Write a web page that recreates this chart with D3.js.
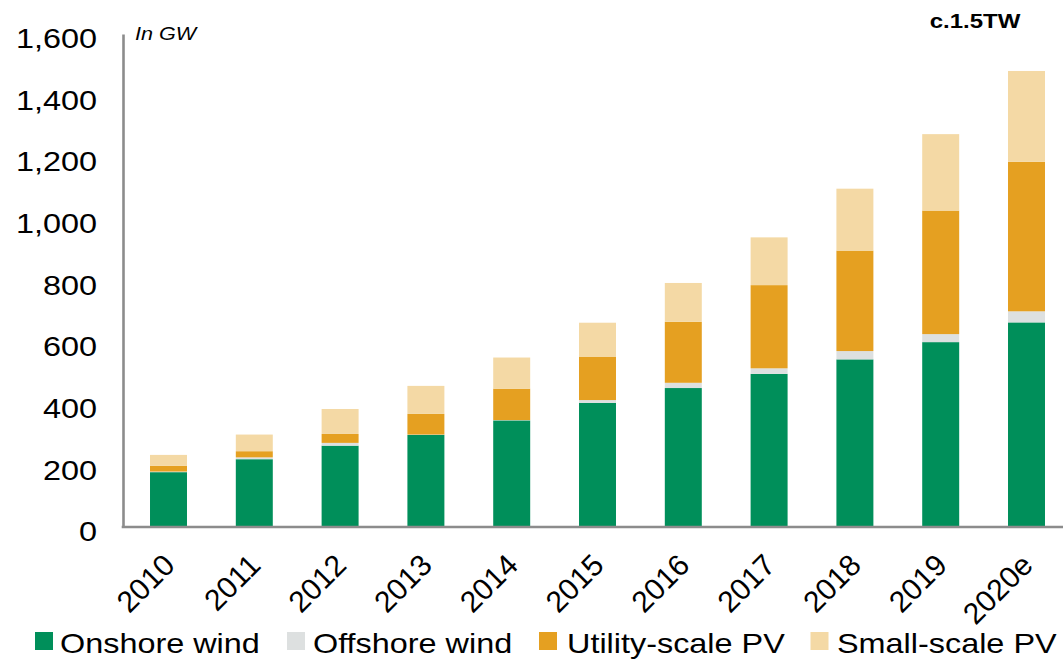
<!DOCTYPE html>
<html>
<head>
<meta charset="utf-8">
<script src="https://cdn.jsdelivr.net/npm/d3@7"></script>
<style>
  html, body { margin: 0; padding: 0; background: #fff; }
  svg { display: block; font-family: "Liberation Sans", Arial, sans-serif; }
</style>
</head>
<body>
<svg id="chart" width="1063" height="660"></svg>
<script>
// Installed wind and solar capacity, GW
const years = ["2010", "2011", "2012", "2013", "2014", "2015", "2016", "2017", "2018", "2019", "2020e"];
const onshoreWind  = [178, 220, 264, 299, 346, 403, 451, 497, 544, 600, 664];
const offshoreWind = [2, 6, 9, 1, 1, 9, 17, 18, 27, 26, 36];
const utilityPV    = [19, 20, 29, 67, 102, 141, 198, 270, 326, 401, 485];
const smallPV      = [35, 54, 81, 91, 101, 110, 126, 155, 201, 248, 295];
const yTicks = [0, 200, 400, 600, 800, 1000, 1200, 1400, 1600];

const seriesNames = ["Onshore wind", "Offshore wind", "Utility-scale PV", "Small-scale PV"];
const seriesKeys = ["onshore", "offshore", "utility", "small"];
const colors = ["#008F5A", "#DDE0E0", "#E5A021", "#F4D9A5"];

const rows = years.map((y, i) => ({
  year: y,
  onshore: onshoreWind[i],
  offshore: offshoreWind[i],
  utility: utilityPV[i],
  small: smallPV[i]
}));

const W = 1063, H = 660;
const axisX = 123;
const sx = 1.2; // horizontal stretch applied to horizontal text

const svg = d3.select("#chart");

const x = d3.scaleBand()
  .domain(years)
  .range([125.6, 1069.4])
  .paddingInner(0.569)
  .paddingOuter(0.2845);

const y = d3.scaleLinear()
  .domain([0, 1600])
  .range([527, 34]);

const color = d3.scaleOrdinal().domain(seriesKeys).range(colors);

const stack = d3.stack().keys(seriesKeys);
const layers = stack(rows);

// Stacked bars
svg.append("g")
  .selectAll("g")
  .data(layers)
  .join("g")
  .attr("fill", d => color(d.key))
  .selectAll("rect")
  .data(d => d)
  .join("rect")
  .attr("x", d => x(d.data.year))
  .attr("width", x.bandwidth())
  .attr("y", d => y(d[1]))
  .attr("height", d => Math.max(0, y(d[0]) - y(d[1])));

// Y axis
const yAxis = svg.append("g")
  .attr("transform", `translate(${axisX},0)`)
  .call(d3.axisLeft(y).tickValues(yTicks).tickFormat(d3.format(",")).tickSize(0).tickSizeOuter(0));
yAxis.select(".domain").attr("stroke", "#8C8C8C").attr("stroke-width", 2.6);
yAxis.selectAll(".tick text")
  .attr("x", 0)
  .attr("dy", "0.36em")
  .attr("transform", `translate(${97 - axisX},4) scale(${sx},1)`)
  .attr("font-size", 27)
  .attr("fill", "#000")
  .attr("font-family", "Liberation Sans, Arial, sans-serif")
  .attr("text-anchor", "end");

// X axis with rotated labels
const xAxis = svg.append("g")
  .attr("transform", `translate(0,${y(0)})`)
  .call(d3.axisBottom(x).tickSize(0));
xAxis.select(".domain").remove();
xAxis.selectAll(".tick text")
  .attr("x", 0)
  .attr("y", 0)
  .attr("dy", 0)
  .attr("text-anchor", "end")
  .attr("transform", "translate(8,40) rotate(-45)")
  .attr("font-size", 30)
  .attr("fill", "#000")
  .attr("font-family", "Liberation Sans, Arial, sans-serif");

// Category baseline
svg.append("line")
  .attr("x1", axisX - 1.3).attr("x2", W)
  .attr("y1", y(0)).attr("y2", y(0))
  .attr("stroke", "#8C8C8C").attr("stroke-width", 2.6);

// Unit note
svg.append("text")
  .attr("transform", `translate(135,40) scale(${sx},1)`)
  .attr("font-size", 18)
  .attr("font-style", "italic")
  .attr("fill", "#000")
  .text("In GW");

// Total annotation
svg.append("text")
  .attr("transform", `translate(975,28) scale(${sx},1)`)
  .attr("text-anchor", "middle")
  .attr("font-size", 20)
  .attr("font-weight", "bold")
  .attr("fill", "#000")
  .text("c.1.5TW");

// Legend
const legendSquareX = [35, 287, 539, 810.5];
const legendTextX = [60, 313, 567, 837];
const legend = svg.append("g")
  .selectAll("g")
  .data(seriesKeys)
  .join("g");
legend.append("rect")
  .attr("x", (d, i) => legendSquareX[i])
  .attr("y", 632)
  .attr("width", 18)
  .attr("height", 18)
  .attr("fill", d => color(d));
legend.append("text")
  .attr("transform", (d, i) => `translate(${legendTextX[i]},653) scale(${sx},1)`)
  .attr("font-size", 27)
  .attr("fill", "#000")
  .text((d, i) => seriesNames[i]);
</script>
</body>
</html>
